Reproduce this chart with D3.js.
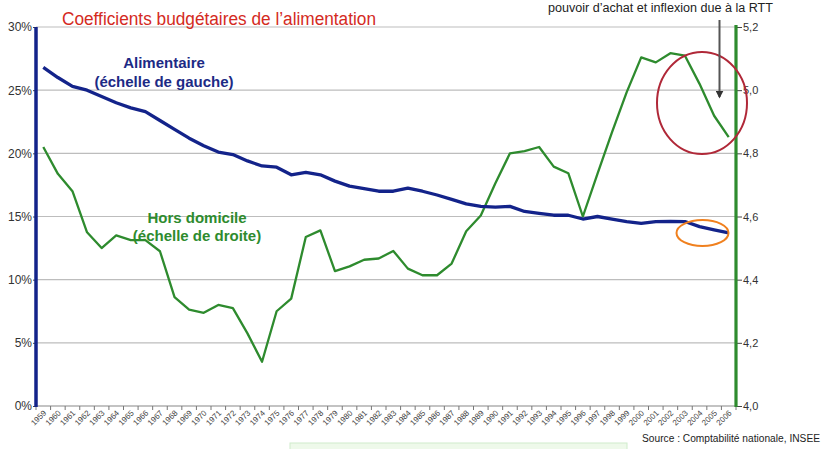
<!DOCTYPE html>
<html>
<head>
<meta charset="utf-8">
<script src="https://cdn.jsdelivr.net/npm/d3@7"></script>
<style>
  html, body { margin: 0; padding: 0; background: #fff; }
  svg { display: block; font-family: "Liberation Sans", Arial, sans-serif; }
</style>
</head>
<body>
<svg id="chart" width="823" height="449"></svg>
<script>
// ---- Data ----
const years = d3.range(1959, 2007).map(String);
const alimentaire = [
  26.8, 26.0, 25.3, 25.0, 24.5, 24.0, 23.6, 23.3, 22.6, 21.9,
  21.2, 20.6, 20.1, 19.9, 19.4, 19.0, 18.9, 18.3, 18.5, 18.3,
  17.8, 17.4, 17.2, 17.0, 17.0, 17.25, 17.0, 16.7, 16.35, 16.0,
  15.8, 15.75, 15.8, 15.4, 15.25, 15.1, 15.1, 14.8, 15.0, 14.8,
  14.6, 14.45, 14.6, 14.62, 14.6, 14.2, 13.95, 13.7
];
const horsDomicile = [
  4.82, 4.735, 4.68, 4.55, 4.50, 4.54, 4.525, 4.525, 4.49, 4.345,
  4.305, 4.295, 4.32, 4.31, 4.23, 4.14, 4.30, 4.34, 4.535, 4.556,
  4.427, 4.442, 4.463, 4.467, 4.491, 4.435, 4.414, 4.414, 4.451, 4.553,
  4.603, 4.705, 4.80, 4.807, 4.82, 4.758, 4.737, 4.60, 4.735, 4.867,
  4.993, 5.104, 5.088, 5.117, 5.109, 5.02, 4.919, 4.851
];
const leftTicks = [0, 5, 10, 15, 20, 25, 30];
const rightTicks = [4.0, 4.2, 4.4, 4.6, 4.8, 5.0, 5.2];
const title = "Coefficients budgétaires de l’alimentation";
const note = "pouvoir d’achat et inflexion due à la RTT";
const source = "Source : Comptabilité nationale, INSEE";
const labelAlim = ["Alimentaire", "(échelle de gauche)"];
const labelHors = ["Hors domicile", "(échelle de droite)"];

// ---- Layout ----
const svg = d3.select("#chart");
const X0 = 36, X1 = 736, Y0 = 406, Y1 = 27;
const blue = "#13238a", green = "#2e8b2e";

const x = d3.scalePoint().domain(years).range([X0, X1]).padding(0.5);
const step = x.step();
const yL = d3.scaleLinear().domain([0, 30]).range([Y0, Y1]);
const yR = d3.scaleLinear().domain([4.0, 5.2]).range([Y0, Y1]);

// gridlines
svg.append("g").selectAll("line").data(leftTicks.filter(d => d > 0)).join("line")
  .attr("x1", X0).attr("x2", X1)
  .attr("y1", d => yL(d)).attr("y2", d => yL(d))
  .attr("stroke", "#bdbdbd").attr("stroke-width", 1.2);

// x axis baseline + ticks
const xa = svg.append("g");
xa.append("line").attr("x1", X0).attr("x2", X1).attr("y1", Y0).attr("y2", Y0)
  .attr("stroke", "#888").attr("stroke-width", 1.2);
xa.selectAll("line.t").data(d3.range(years.length + 1)).join("line").attr("class", "t")
  .attr("x1", i => X0 + i * step).attr("x2", i => X0 + i * step)
  .attr("y1", Y0).attr("y2", Y0 + 4)
  .attr("stroke", "#777").attr("stroke-width", 1);
xa.selectAll("text").data(years).join("text")
  .attr("transform", d => `translate(${x(d) + 2},${Y0 + 6}) rotate(-45)`)
  .attr("text-anchor", "end").attr("dominant-baseline", "middle")
  .attr("font-size", 8).attr("fill", "#444").text(d => d);

// left axis
const la = svg.append("g").attr("transform", `translate(${X0},0)`)
  .call(d3.axisLeft(yL).tickValues(leftTicks).tickFormat(d => d + "%").tickSize(3).tickPadding(1));
la.select(".domain").remove();
la.selectAll("text").attr("font-size", 12).attr("fill", "#333").attr("font-family", "Liberation Sans, Arial, sans-serif");
la.selectAll("line").attr("stroke", "#444");
svg.append("line").attr("x1", X0).attr("x2", X0).attr("y1", Y1).attr("y2", Y0 + 1)
  .attr("stroke", blue).attr("stroke-width", 3.5);

// right axis
const ra = svg.append("g").attr("transform", `translate(${X1},0)`)
  .call(d3.axisRight(yR).tickValues(rightTicks).tickFormat(d => d.toFixed(1).replace(".", ",")).tickSize(6).tickPadding(1));
ra.select(".domain").remove();
ra.selectAll("text").attr("font-size", 11).attr("fill", "#333").attr("font-family", "Liberation Sans, Arial, sans-serif");
ra.selectAll("line").attr("stroke", "#444");
svg.append("line").attr("x1", X1).attr("x2", X1).attr("y1", Y1 - 2).attr("y2", Y0 + 1)
  .attr("stroke", green).attr("stroke-width", 3.2);

// lines
svg.append("path").datum(horsDomicile)
  .attr("d", d3.line().x((d, i) => x(years[i])).y(d => yR(d)))
  .attr("fill", "none").attr("stroke", green).attr("stroke-width", 2.3).attr("stroke-linejoin", "round");
svg.append("path").datum(alimentaire)
  .attr("d", d3.line().x((d, i) => x(years[i])).y(d => yL(d)))
  .attr("fill", "none").attr("stroke", blue).attr("stroke-width", 3.3).attr("stroke-linejoin", "round");

// annotations
svg.append("ellipse").attr("cx", 702).attr("cy", 103).attr("rx", 45).attr("ry", 51)
  .attr("fill", "none").attr("stroke", "#b02838").attr("stroke-width", 2);
svg.append("ellipse").attr("cx", 702.5).attr("cy", 233).attr("rx", 26).attr("ry", 13)
  .attr("fill", "none").attr("stroke", "#f0801e").attr("stroke-width", 2);
const defs = svg.append("defs");
defs.append("marker").attr("id", "arr").attr("viewBox", "0 0 10 10").attr("refX", 8).attr("refY", 5)
  .attr("markerWidth", 4).attr("markerHeight", 4).attr("orient", "auto")
  .append("path").attr("d", "M0,0 L10,5 L0,10 z").attr("fill", "#333");
svg.append("line").attr("x1", 719.5).attr("x2", 719.5).attr("y1", 20).attr("y2", 97)
  .attr("stroke", "#555").attr("stroke-width", 2).attr("marker-end", "url(#arr)");

// texts
svg.append("text").attr("x", 62).attr("y", 24.5).attr("font-size", 18).attr("fill", "#d42a1e")
  .attr("textLength", 314).attr("lengthAdjust", "spacingAndGlyphs").text(title);
svg.append("text").attr("x", 660.5).attr("y", 11.5).attr("text-anchor", "middle").attr("font-size", 12)
  .attr("fill", "#222").attr("textLength", 225).attr("lengthAdjust", "spacingAndGlyphs").text(note);
svg.append("text").attr("x", 642).attr("y", 441.5).attr("font-size", 10).attr("fill", "#222")
  .attr("textLength", 178).attr("lengthAdjust", "spacingAndGlyphs").text(source);

svg.append("g").selectAll("text").data(labelAlim).join("text")
  .attr("x", 164).attr("y", (d, i) => 68 + i * 18.5).attr("text-anchor", "middle")
  .attr("font-size", 15).attr("font-weight", "bold").attr("fill", "#1c2a85").text(d => d);
svg.append("g").selectAll("text").data(labelHors).join("text")
  .attr("x", 197).attr("y", (d, i) => 223 + i * 17.5).attr("text-anchor", "middle")
  .attr("font-size", 15).attr("font-weight", "bold").attr("fill", green).text(d => d);

// faint green box at bottom
svg.append("rect").attr("x", 290).attr("y", 443).attr("width", 337).attr("height", 10)
  .attr("fill", "#eef9ea").attr("stroke", "#cfeccc").attr("stroke-width", 1);
</script>
</body>
</html>
